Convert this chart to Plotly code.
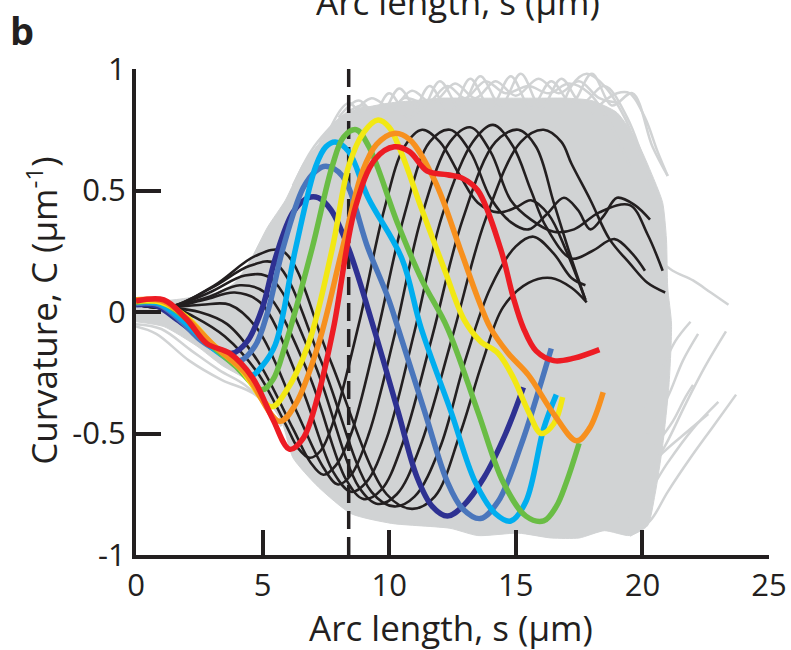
import plotly.graph_objects as go

GREY = '#d1d3d4'
INK = '#231f20'
FONT = 'Open Sans'

# ---------------- data ----------------
# dense grey cloud envelope
ENV_UP_S = [0, 1.5, 2.5, 3.2, 3.9, 4.5, 5.2, 5.9, 6.6, 7.2, 7.9, 8.4, 9.0, 10, 11, 12, 13, 14, 15, 16, 17, 18, 19, 19.8, 20.4, 20.8]
ENV_UP_C = [0.04, 0.05, 0.065, 0.08, 0.12, 0.21, 0.35, 0.46, 0.61, 0.69, 0.78, 0.82, 0.84, 0.86, 0.87, 0.88, 0.88, 0.88, 0.88, 0.88, 0.88, 0.87, 0.82, 0.7, 0.56, 0.45]
ENV_RIGHT_S = [20.95, 21.0, 21.15, 21.05, 20.8, 20.5, 20.2]
ENV_RIGHT_C = [0.3, 0.1, -0.05, -0.3, -0.55, -0.75, -0.88]
ENV_LOW_S = [19.5, 18.5, 17.5, 16.4, 15.1, 13.5, 12.4, 10.1, 8.5, 7.2, 6.2, 5.75, 4.7, 3.4, 2.4, 1.1, 0]
ENV_LOW_C = [-0.92, -0.9, -0.93, -0.93, -0.91, -0.92, -0.89, -0.87, -0.83, -0.72, -0.6, -0.45, -0.3, -0.22, -0.14, -0.06, -0.04]

# individual grey traces that stick out of the cloud
GREY_LINES = {
    'top1': ([7.6, 8.4, 9.2, 10.0, 10.8, 11.6, 12.4, 13.2, 14.0, 14.8, 15.6, 16.4, 17.2, 18.0, 18.8, 19.6, 20.4, 21.0],
             [0.74, 0.86, 0.78, 0.9, 0.8, 0.93, 0.82, 0.96, 0.84, 0.97, 0.84, 0.95, 0.86, 0.98, 0.85, 0.9, 0.68, 0.56]),
    'top2': ([8.0, 8.8, 9.6, 10.4, 11.2, 12.0, 12.8, 13.6, 14.4, 15.2, 16.0, 16.8, 17.6, 18.5, 19.4, 20.4],
             [0.8, 0.87, 0.8, 0.92, 0.82, 0.95, 0.84, 0.97, 0.85, 0.98, 0.84, 0.96, 0.86, 0.93, 0.8, 0.5]),
    'top3': ([7.2, 8.2, 9.0, 9.8, 10.6, 11.5, 12.3, 13.0, 13.8, 14.6, 15.5, 16.3, 17.1, 17.9, 18.7, 19.5],
             [0.7, 0.8, 0.84, 0.8, 0.88, 0.86, 0.93, 0.88, 0.95, 0.9, 0.93, 0.9, 0.94, 0.9, 0.78, 0.6]),
    'top6': ([8.6, 9.3, 10.1, 10.9, 11.7, 12.6, 13.4, 14.2, 15.0, 15.9, 16.7, 17.5, 18.3, 19.1],
             [0.82, 0.88, 0.84, 0.91, 0.86, 0.94, 0.88, 0.95, 0.89, 0.96, 0.9, 0.95, 0.88, 0.86]),
    'top7': ([6.2, 6.9, 7.5, 8.1, 8.9, 9.5],
             [0.52, 0.66, 0.74, 0.8, 0.85, 0.82]),
    'top4': ([16.6, 17.2, 17.8, 18.5, 19.3, 20.0, 20.6],
             [0.75, 0.93, 0.98, 0.93, 0.8, 0.62, 0.49]),
    'top5': ([17.5, 18.3, 19.0, 19.5, 20.1, 20.6, 21.0],
             [0.75, 0.85, 0.9, 0.9, 0.8, 0.66, 0.56]),
    'spur1': ([19.8, 20.6, 21.2, 22.0, 22.7, 23.4], [0.3, 0.22, 0.17, 0.13, 0.08, 0.03]),
    'spur2': ([19.5, 20.3, 21.0, 21.9, 22.8, 23.7], [-0.92, -0.86, -0.74, -0.6, -0.47, -0.34]),
    'spur3': ([19.0, 20.0, 21.0, 22.0, 23.0], [-0.88, -0.78, -0.62, -0.48, -0.37]),
    'spur4': ([18.8, 19.8, 20.8, 21.8, 22.6], [-0.8, -0.7, -0.58, -0.49, -0.42]),
    'spur5': ([20.0, 20.9, 21.7, 22.5, 23.3], [-0.7, -0.55, -0.38, -0.22, -0.08]),
    'spur6': ([20.2, 21.0, 21.6, 22.2], [-0.5, -0.35, -0.2, -0.09]),
    'spur7': ([20.0, 20.7, 21.3, 21.9], [-0.4, -0.25, -0.12, -0.04]),
    'spur8': ([20.5, 21.2, 21.7, 22.0], [-0.55, -0.45, -0.35, -0.3]),
    'low1': ([0, 0.8, 2.1, 3.4, 4.7, 5.75], [-0.06, -0.09, -0.2, -0.28, -0.34, -0.47]),
    'low2': ([0, 1.0, 2.2, 3.3, 4.3, 5.3], [-0.05, -0.07, -0.16, -0.24, -0.3, -0.4]),
}

# black profiles
K1_S = [0, 1.2, 2.3, 3.5, 4.8, 5.9, 6.4, 6.86, 7.3, 7.8, 8.8, 9.8, 10.6, 11.3, 12.0, 12.8, 13.5, 14.3, 15.0, 15.6, 16.3, 17.0, 17.75]
K1_C = [0.03, 0.03, -0.02, -0.1, -0.25, -0.46, -0.56, -0.6, -0.57, -0.45, -0.05, 0.42, 0.68, 0.75, 0.7, 0.56, 0.45, 0.41, 0.43, 0.46, 0.4, 0.25, 0.05]
K2_S = [0, 1.2, 2.5, 3.6, 4.8, 6.2, 6.9, 7.4, 7.9, 8.5, 9.5, 10.6, 11.6, 12.4, 13.2, 14.0, 14.8, 15.5, 16.2, 16.9, 17.45, 17.95, 18.5, 19.0, 19.7, 20.3]
K2_C = [0.03, 0.02, 0.0, -0.05, -0.2, -0.48, -0.62, -0.67, -0.63, -0.5, -0.1, 0.4, 0.7, 0.75, 0.66, 0.47, 0.37, 0.34, 0.4, 0.47, 0.42, 0.34, 0.4, 0.47, 0.44, 0.38]
K3_S = [0, 1.2, 2.6, 3.7, 4.8, 6.3, 7.4, 7.98, 8.5, 9.2, 10.2, 11.3, 12.4, 13.2, 14.0, 14.8, 15.6, 16.5, 17.3, 18.3, 19.5, 20.2, 20.8]
K3_C = [0.03, 0.02, 0.03, 0.03, -0.07, -0.4, -0.64, -0.71, -0.67, -0.5, -0.1, 0.4, 0.7, 0.76, 0.66, 0.46, 0.38, 0.33, 0.34, 0.41, 0.44, 0.32, 0.17]
K4_S = [0, 1.3, 2.7, 3.9, 4.9, 6.5, 7.8, 8.5, 9.1, 9.9, 11.0, 12.1, 13.3, 14.1, 14.9, 15.6, 16.2, 17.2, 18.0, 18.9, 19.6, 20.1]
K4_C = [0.03, 0.02, 0.05, 0.08, 0.04, -0.3, -0.66, -0.74, -0.7, -0.52, -0.08, 0.4, 0.7, 0.77, 0.68, 0.5, 0.35, 0.22, 0.25, 0.30, 0.24, 0.17]
K5_S = [0, 1.3, 2.8, 4.1, 5.1, 6.8, 8.3, 9.0, 9.7, 10.5, 11.7, 12.9, 14.2, 15.1, 15.8, 16.5, 17.1, 17.75]
K5_C = [0.03, 0.02, 0.06, 0.11, 0.08, -0.25, -0.69, -0.77, -0.73, -0.55, -0.1, 0.38, 0.7, 0.75, 0.68, 0.45, 0.25, 0.05]
K6_S = [0, 1.3, 2.9, 4.3, 5.3, 7.0, 8.8, 9.55, 10.3, 11.2, 12.5, 13.8, 15.2, 16.1, 16.8, 17.2, 17.95, 18.7, 19.5, 20.2, 20.9]
K6_C = [0.03, 0.02, 0.08, 0.15, 0.14, -0.2, -0.72, -0.79, -0.75, -0.56, -0.1, 0.38, 0.7, 0.75, 0.7, 0.61, 0.46, 0.30, 0.2, 0.12, 0.08]
K7_S = [0, 1.3, 3.0, 4.5, 5.5, 7.3, 9.3, 10.2, 11.0, 12.0, 13.0, 14.0, 15.0, 15.7, 16.5, 17.2, 17.75]
K7_C = [0.03, 0.02, 0.1, 0.19, 0.2, -0.2, -0.74, -0.8, -0.76, -0.56, -0.2, 0.1, 0.27, 0.31, 0.24, 0.14, 0.11]
K8_S = [0, 1.3, 3.1, 4.7, 5.8, 7.6, 9.9, 10.9, 11.8, 12.8, 13.7, 14.5, 15.5, 16.4, 17.2, 17.8]
K8_C = [0.03, 0.02, 0.11, 0.23, 0.25, -0.18, -0.75, -0.81, -0.76, -0.5, -0.2, 0.02, 0.12, 0.14, 0.1, 0.04]
BLACK = [(K1_S, K1_C), (K2_S, K2_C), (K3_S, K3_C), (K4_S, K4_C),
         (K5_S, K5_C), (K6_S, K6_C), (K7_S, K7_C), (K8_S, K8_C)]

# coloured profiles
NAVY_S = [0, 0.8, 1.6, 2.5, 3.2, 3.8, 4.4, 5.0, 5.5, 6.2, 6.8, 7.2, 7.7, 8.4, 9.4, 10.35, 11.1, 11.7, 12.3, 12.9, 13.75, 14.6, 15.3]
NAVY_C = [0.03, 0.025, -0.03, -0.1, -0.15, -0.17, -0.12, 0.02, 0.22, 0.41, 0.47, 0.47, 0.42, 0.26, -0.07, -0.41, -0.68, -0.8, -0.84, -0.8, -0.68, -0.5, -0.31]
STEEL_S = [0, 0.9, 1.7, 2.6, 3.4, 4.1, 4.7, 5.2, 5.8, 6.6, 7.1, 7.5, 8.15, 9.17, 9.95, 10.35, 11.4, 12.3, 12.9, 13.6, 14.3, 15.2, 16.4]
STEEL_C = [0.035, 0.03, -0.03, -0.12, -0.17, -0.2, -0.14, 0.0, 0.26, 0.51, 0.58, 0.6, 0.56, 0.26, 0.06, -0.066, -0.41, -0.7, -0.81, -0.85, -0.78, -0.55, -0.15]
SKY_S = [0, 0.9, 1.8, 2.8, 3.7, 4.57, 5.0, 5.5, 6.3, 7.1, 7.5, 7.87, 8.4, 9.17, 10.5, 11.26, 12.44, 13.4, 14.2, 14.8, 15.4, 16.1, 16.6]
SKY_C = [0.04, 0.035, -0.03, -0.13, -0.2, -0.26, -0.22, -0.135, 0.26, 0.6, 0.68, 0.7, 0.66, 0.47, 0.22, -0.066, -0.41, -0.7, -0.83, -0.86, -0.78, -0.48, -0.34]
GREEN_S = [0, 1.0, 1.9, 2.9, 3.9, 4.96, 5.4, 5.9, 6.95, 7.75, 8.2, 8.7, 9.2, 10.35, 11.3, 12.3, 13.5, 14.5, 15.4, 16.1, 16.6, 17.0, 17.5]
GREEN_C = [0.04, 0.04, -0.02, -0.13, -0.22, -0.32, -0.28, -0.135, 0.26, 0.6, 0.72, 0.75, 0.68, 0.36, 0.13, -0.066, -0.41, -0.7, -0.84, -0.86, -0.8, -0.7, -0.54]
YELLOW_S = [0, 1.0, 2.0, 3.0, 4.1, 5.35, 5.9, 6.8, 7.75, 8.4, 9.0, 9.56, 10.0, 10.5, 11.26, 12.2, 12.95, 13.6, 14.3, 14.9, 15.5, 16.0, 16.5, 16.85]
YELLOW_C = [0.045, 0.04, -0.02, -0.13, -0.23, -0.39, -0.33, -0.135, 0.26, 0.6, 0.74, 0.79, 0.76, 0.65, 0.43, 0.17, -0.03, -0.12, -0.17, -0.27, -0.41, -0.5, -0.46, -0.35]
ORANGE_S = [0, 1.05, 2.05, 3.1, 4.3, 5.67, 6.3, 7.2, 8.15, 8.95, 9.5, 10.2, 10.8, 11.8, 12.8, 13.5, 14.0, 14.7, 15.5, 16.5, 17.4, 17.9, 18.45]
ORANGE_C = [0.05, 0.045, -0.03, -0.14, -0.25, -0.45, -0.38, -0.135, 0.26, 0.58, 0.69, 0.735, 0.71, 0.54, 0.26, 0.057, -0.066, -0.17, -0.26, -0.42, -0.53, -0.48, -0.33]
RED_S = [0, 1.1, 2.0, 2.8, 3.7, 4.6, 5.4, 6.07, 6.6, 7.2, 7.8, 8.66, 9.45, 10.2, 10.8, 11.5, 12.3, 12.9, 13.5, 14.4, 14.9, 15.3, 15.8, 16.5, 17.3, 18.3]
RED_C = [0.045, 0.05, -0.03, -0.13, -0.17, -0.27, -0.44, -0.565, -0.52, -0.34, -0.066, 0.43, 0.63, 0.68, 0.66, 0.58, 0.565, 0.55, 0.5, 0.26, 0.06, -0.066, -0.16, -0.2, -0.19, -0.155]
COLOURED = [(NAVY_S, NAVY_C, '#2e3192'), (STEEL_S, STEEL_C, '#4a76bc'), (SKY_S, SKY_C, '#00aeef'),
            (GREEN_S, GREEN_C, '#6abd45'), (YELLOW_S, YELLOW_C, '#f2e813'), (ORANGE_S, ORANGE_C, '#f7901e'),
            (RED_S, RED_C, '#ed1c24')]

DASH_S = 8.4
X_TICKS = [0, 5, 10, 15, 20, 25]
Y_TICKS = [-1, -0.5, 0, 0.5, 1]
Y_TICKTEXT = ['-1', '-0.5', '0', '0.5', '1']

# ---------------- figure ----------------
fig = go.Figure()

fig.add_trace(go.Scatter(
    x=ENV_UP_S + ENV_RIGHT_S + ENV_LOW_S,
    y=ENV_UP_C + ENV_RIGHT_C + ENV_LOW_C,
    mode='lines', fill='toself', fillcolor=GREY,
    line=dict(color=GREY, width=1, shape='spline', smoothing=0.6),
    hoverinfo='skip'))

for s, c in GREY_LINES.values():
    fig.add_trace(go.Scatter(x=s, y=c, mode='lines',
                             line=dict(color=GREY, width=2.5, shape='spline', smoothing=1.0),
                             hoverinfo='skip'))

for s, c in BLACK:
    fig.add_trace(go.Scatter(x=s, y=c, mode='lines',
                             line=dict(color=INK, width=2.6, shape='spline', smoothing=1.0),
                             hoverinfo='skip'))

fig.add_trace(go.Scatter(x=[DASH_S, DASH_S], y=[-1, 1], mode='lines',
                         line=dict(color=INK, width=3.5, dash='18px,8px'), hoverinfo='skip'))

for s, c, col in COLOURED:
    fig.add_trace(go.Scatter(x=s, y=c, mode='lines',
                             line=dict(color=col, width=5.5, shape='spline', smoothing=1.0),
                             hoverinfo='skip'))

axis_common = dict(showgrid=False, zeroline=False, showline=True, linewidth=4, linecolor=INK,
                   ticks='inside', ticklen=25, tickwidth=4, tickcolor=INK, automargin=False,
                   tickfont=dict(family=FONT, size=31, color=INK))

fig.update_xaxes(range=[0, 25], tickvals=X_TICKS, ticktext=[str(v) for v in X_TICKS], **axis_common)
fig.update_yaxes(range=[-1, 1], tickvals=Y_TICKS, ticktext=Y_TICKTEXT, **axis_common)

# plot area: x 136..769, y 69..555 (pixels)
fig.update_layout(
    width=791, height=650,
    margin=dict(l=136, r=22, t=69, b=95, autoexpand=False),
    plot_bgcolor='white', paper_bgcolor='white',
    showlegend=False,
    font=dict(family=FONT, color=INK),
    annotations=[
        dict(text='Arc length, s (µm)', xref='paper', yref='paper', x=0.497, y=-0.15,
             xanchor='center', yanchor='middle', showarrow=False,
             font=dict(family=FONT, size=35, color=INK)),
        dict(text='Curvature, C (µm<sup>-1</sup>)', xref='paper', yref='paper', x=-0.148, y=0.503,
             xanchor='center', yanchor='middle', textangle=-90, showarrow=False,
             font=dict(family=FONT, size=35, color=INK)),
        dict(text='Arc length, s (µm)', xref='paper', yref='paper', x=0.508, y=1.087,
             xanchor='center', yanchor='bottom', showarrow=False,
             font=dict(family=FONT, size=35, color=INK)),
        dict(text='<b>b</b>', xref='paper', yref='paper', x=-0.18, y=1.08,
             xanchor='center', yanchor='middle', showarrow=False,
             font=dict(family=FONT, size=38, color=INK)),
    ],
)

fig.write_html('out.html', config={'displayModeBar': False},
               post_script="document.body.style.margin='0px';")
